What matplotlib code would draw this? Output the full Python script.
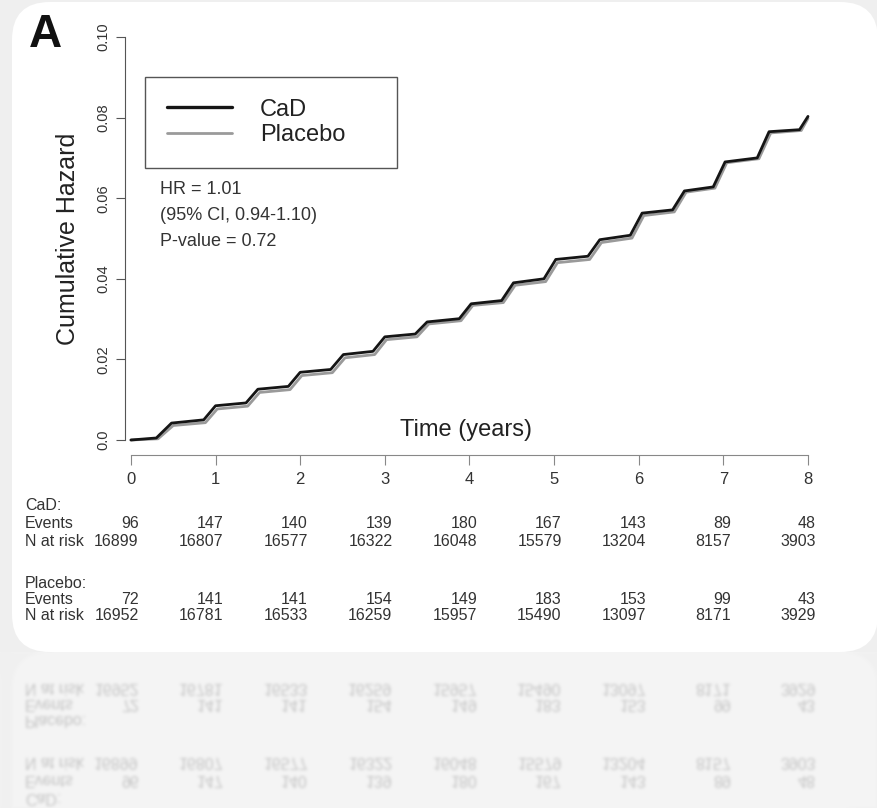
import numpy as np
import matplotlib
matplotlib.use("Agg")
import matplotlib.pyplot as plt
import matplotlib.transforms as mtransforms
from matplotlib.patches import FancyBboxPatch

plt.rcParams['font.family'] = ['Liberation Sans', 'DejaVu Sans']

# cumulative hazard curves (knots)
t_cad = [0, 0.30, 0.48, 0.86, 1.0, 1.36, 1.5, 1.86, 2.0, 2.36, 2.51, 2.86, 3.0,
         3.36, 3.5, 3.88, 4.02, 4.38, 4.52, 4.88, 5.02, 5.4, 5.54, 5.9, 6.04,
         6.4, 6.54, 6.88, 7.02, 7.4, 7.54, 7.9, 8.0]
h_cad = [0, 0.0005, 0.0042, 0.0050, 0.0085, 0.0092, 0.0126, 0.0133, 0.0168, 0.0175,
         0.0212, 0.0220, 0.0256, 0.0263, 0.0293, 0.0301, 0.0338, 0.0346, 0.0390,
         0.0400, 0.0448, 0.0456, 0.0497, 0.0508, 0.0563, 0.0571, 0.0618, 0.0628,
         0.0690, 0.0700, 0.0765, 0.0770, 0.0803]
t_pla = [0, 0.32, 0.50, 0.88, 1.02, 1.38, 1.52, 1.88, 2.02, 2.38, 2.53, 2.88, 3.02,
         3.38, 3.52, 3.9, 4.04, 4.4, 4.54, 4.9, 5.04, 5.42, 5.56, 5.92, 6.06,
         6.42, 6.56, 6.9, 7.04, 7.42, 7.56, 7.92, 8.0]
h_pla = [0, 0.0003, 0.0036, 0.0043, 0.0077, 0.0084, 0.0118, 0.0125, 0.0160, 0.0167,
         0.0204, 0.0212, 0.0249, 0.0256, 0.0288, 0.0296, 0.0334, 0.0341, 0.0384,
         0.0393, 0.0440, 0.0448, 0.0490, 0.0501, 0.0557, 0.0566, 0.0615, 0.0625,
         0.0688, 0.0698, 0.0762, 0.0768, 0.0798]

years = [0, 1, 2, 3, 4, 5, 6, 7, 8]
yticks = [0.0, 0.02, 0.04, 0.06, 0.08, 0.10]
ytick_labels = ['0.0', '0.02', '0.04', '0.06', '0.08', '0.10']

cad_events = [96, 147, 140, 139, 180, 167, 143, 89, 48]
cad_risk = [16899, 16807, 16577, 16322, 16048, 15579, 13204, 8157, 3903]
pla_events = [72, 141, 141, 154, 149, 183, 153, 99, 43]
pla_risk = [16952, 16781, 16533, 16259, 15957, 15490, 13097, 8171, 3929]

W, H = 878, 808
fig = plt.figure(figsize=(W / 100, H / 100), dpi=100, facecolor='#efefef')

# white card
card = FancyBboxPatch((12, H - 652), 866, 650, boxstyle='round,pad=0,rounding_size=38',
                      transform=mtransforms.IdentityTransform(),
                      facecolor='white', edgecolor='none', zorder=-1)
fig.add_artist(card)

ax = fig.add_axes([125 / W, (H - 440) / H, (808 - 125) / W, 403 / H])
ax.set_facecolor('none')
ax.plot(t_pla, h_pla, color='#9a9a9a', lw=2.0, clip_on=False, solid_joinstyle='round',
        solid_capstyle='round', label='Placebo')
ax.plot(t_cad, h_cad, color='#151515', lw=2.0, clip_on=False, solid_joinstyle='round',
        solid_capstyle='round', label='CaD')
ax.set_xlim(-0.07, 8.0)
ax.set_ylim(0, 0.10)

for s in ['top', 'right']:
    ax.spines[s].set_visible(False)
ax.spines['left'].set_bounds(0, 0.10)
ax.spines['bottom'].set_bounds(0, 8)
ax.spines['bottom'].set_position(('outward', 11))
ax.spines['left'].set_color('#555555')
ax.spines['bottom'].set_color('#888888')

ax.set_xticks(years)
ax.set_xticklabels([str(y) for y in years], fontsize=12, color='#333333')
ax.set_yticks(yticks)
ax.set_yticklabels(ytick_labels, fontsize=10.5, color='#333333', rotation=90, va='center')
ax.tick_params(axis='x', length=7, color='#888888', pad=5)
ax.tick_params(axis='y', length=6.5, color='#555555', pad=4)

ax.set_xlabel('Time (years)', fontsize=17, color='#222222', va='center')
ax.xaxis.set_label_coords(0.5, 0.025)
ax.set_ylabel('Cumulative Hazard', fontsize=18, color='#222222', va='center')
ax.yaxis.set_label_coords(-0.083, 0.5)

handles, labels = ax.get_legend_handles_labels()
leg = ax.legend(handles[::-1], labels[::-1], loc='upper left',
                bbox_to_anchor=(145 / W, 1 - 164 / H, 252 / W, 87 / H),
                bbox_transform=fig.transFigure, mode='expand', fontsize=17,
                handlelength=2.75, handletextpad=1.2, labelspacing=0.15,
                borderpad=0.92, borderaxespad=0, fancybox=False, framealpha=1,
                edgecolor='#555555')
leg.get_frame().set_linewidth(1.0)
for ln, w in zip(leg.get_lines(), [2.4, 2.0]):
    ln.set_linewidth(w)
for t in leg.get_texts():
    t.set_color('#222222')

fig.text(160 / W, 1 - 189 / H, 'HR = 1.01', fontsize=13, color='#333333', va='center')
fig.text(160 / W, 1 - 215 / H, '(95% CI, 0.94-1.10)', fontsize=13, color='#333333', va='center')
fig.text(160 / W, 1 - 241 / H, 'P-value = 0.72', fontsize=13, color='#333333', va='center')

fig.text(29 / W, 1 - 35 / H, 'A', fontsize=33, fontweight='bold', color='#111111', va='center')

# numbers at risk table
tr = mtransforms.blended_transform_factory(ax.transData, fig.transFigure)
rows = [('CaD:', None, 505), ('Events', cad_events, 523), ('N at risk', cad_risk, 541),
        ('Placebo:', None, 583), ('Events', pla_events, 600), ('N at risk', pla_risk, 616)]
for name, vals, ypx in rows:
    fig.text(25 / W, 1 - ypx / H, name, fontsize=11.5, color='#333333', va='center')
    if vals is None:
        continue
    for x, v in zip(years, vals):
        ax.text(x + 0.09, 1 - ypx / H, str(v), transform=tr, fontsize=11.5,
                color='#333333', ha='right', va='center')

# faint mirrored reflection under the card
fig.canvas.draw()
img = np.asarray(fig.canvas.buffer_rgba())[:, :, :3].astype(float) / 255
cut = 652
n = H - cut
part = img[cut - n:cut][::-1].copy()
for _ in range(3):
    part = (part + np.roll(part, 1, 0) + np.roll(part, -1, 0)) / 3
    part = (part + np.roll(part, 1, 1) + np.roll(part, -1, 1)) / 3
alpha = 0.24
refl = part * alpha + 0.945 * (1 - alpha)
fig.figimage((np.clip(refl, 0, 1) * 255).astype(np.uint8), xo=0, yo=0, origin='upper', zorder=-2)

fig.savefig('out.png', dpi=100)
